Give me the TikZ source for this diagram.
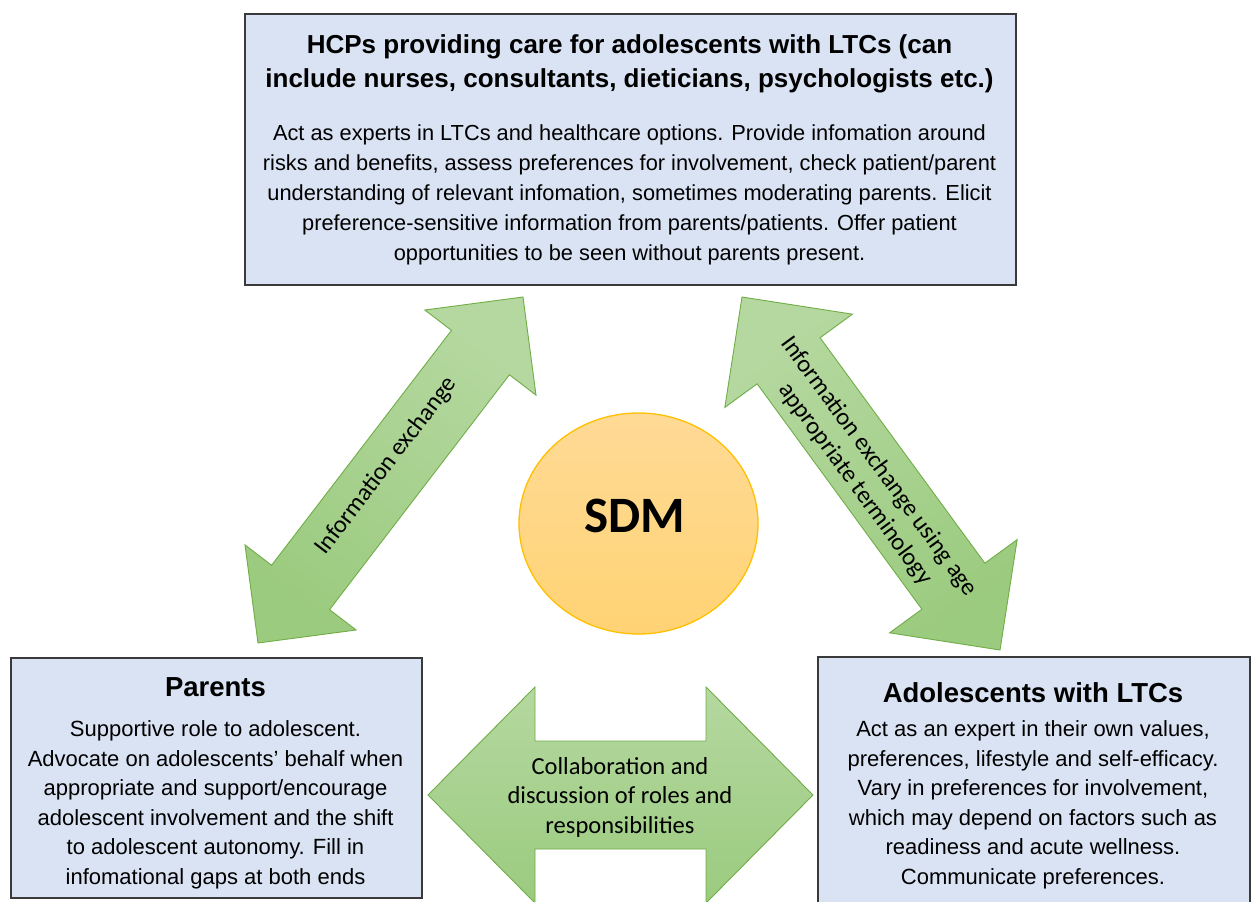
\documentclass[tikz,border=0pt]{standalone}
\usepackage{fontspec}
\setmainfont{Liberation Sans}
\newfontfamily\calib{Carlito}
\usetikzlibrary{calc,shapes.geometric}
\definecolor{boxfill}{HTML}{DAE3F3}
\definecolor{boxline}{HTML}{3A3A3A}
\definecolor{garrowA}{HTML}{B5D8A0}
\definecolor{garrowB}{HTML}{9BCB7F}
\definecolor{garrowline}{HTML}{70AD47}
\definecolor{sdmtop}{HTML}{FFDA96}
\definecolor{sdmbot}{HTML}{FFD374}
\definecolor{sdmline}{HTML}{FFC000}
\tikzset{
  rolebox/.style={draw=boxline, line width=1.8pt, fill=boxfill, rectangle, inner sep=0pt, anchor=north west},
  titletext/.style={font=\bfseries\fontsize{26}{34}\selectfont, align=center, inner sep=0pt},
  rtitletext/.style={font=\bfseries\fontsize{27.5}{30}\selectfont, align=center, inner sep=0pt},
  bodytext/.style={font=\fontsize{21.8}{30}\selectfont, align=center, inner sep=0pt},
  rbodytext/.style={font=\fontsize{22}{29.5}\selectfont, align=center, inner sep=0pt},
  arrowtext/.style={font=\calib\fontsize{24.5}{29.5}\selectfont, align=center, inner sep=0pt},
  greenarrow/.style={draw=garrowline, line width=0.9pt, top color=garrowA, bottom color=garrowB, line join=miter},
  sdmshape/.style={ellipse, draw=sdmline, line width=1.3pt, top color=sdmtop, bottom color=sdmbot, minimum width=239pt, minimum height=221pt, inner sep=0pt},
  sdmtext/.style={font=\calib\bfseries\fontsize{51}{53}\selectfont, inner sep=0pt},
}
% #1 tip A, #2 tip B, #3 shaft half width, #4 head half width, #5 head length, #6 style
\newcommand\dblarrow[6]{%
  \coordinate (ha) at ($(#1)!#5!(#2)$);
  \coordinate (hb) at ($(#2)!#5!(#1)$);
  \path[#6] (#1) -- ($(ha)!#4!90:(#2)$) -- ($(ha)!#3!90:(#2)$)
    -- ($(hb)!#3!-90:(#1)$) -- ($(hb)!#4!-90:(#1)$) -- (#2)
    -- ($(hb)!#4!90:(#1)$) -- ($(hb)!#3!90:(#1)$)
    -- ($(ha)!#3!-90:(#2)$) -- ($(ha)!#4!-90:(#2)$) -- cycle;
}
\begin{document}
\begin{tikzpicture}[x=1pt,y=-1pt]
\useasboundingbox (0,0) rectangle (1251,902);
\fill[white] (0,0) rectangle (1251,902);
\clip (0,0) rectangle (1251,902);

% boxes
\node[rolebox, minimum width=771pt, minimum height=271pt] (hcp) at (244,13) {};
\node[rolebox, minimum width=411pt, minimum height=240pt] (par) at (10,657) {};
\node[rolebox, minimum width=432pt, minimum height=262pt] (ado) at (817,656) {};

\node[titletext] (hcptitle) at (629.5,64) {HCPs providing care for adolescents with LTCs (can\\include nurses, consultants, dieticians, psychologists etc.)};
\node[bodytext] (hcpbody) at (629.5,195) {Act as experts in LTCs and healthcare options. Provide infomation around\\risks and benefits, assess preferences for involvement, check patient/parent\\understanding of relevant infomation, sometimes moderating parents. Elicit\\preference-sensitive information from parents/patients. Offer patient\\opportunities to be seen without parents present.};

\node[rtitletext] (partitle) at (215.5,687) {Parents};
\node[rbodytext] (parbody) at (215.5,805) {Supportive role to adolescent.\\Advocate on adolescents’ behalf when\\appropriate and support/encourage\\adolescent involvement and the shift\\to adolescent autonomy. Fill in\\infomational gaps at both ends};

\node[rtitletext] (adotitle) at (1033,693) {Adolescents with LTCs};
\node[rbodytext] (adobody) at (1033,805) {Act as an expert in their own values,\\preferences, lifestyle and self-efficacy.\\Vary in preferences for involvement,\\which may depend on factors such as\\readiness and acute wellness.\\Communicate preferences.};

% arrow ends
\coordinate (lA) at (258,643);
\coordinate (lB) at (523,297);
\coordinate (rA) at (742,297);
\coordinate (rB) at (1000,650);
\coordinate (hA) at (428,795);
\coordinate (hB) at (813,795);

\dblarrow{lA}{lB}{36.5pt}{70pt}{70pt}{greenarrow, shading angle=-37}
\dblarrow{rA}{rB}{39pt}{79pt}{79pt}{greenarrow, shading angle=37}
\dblarrow{hA}{hB}{54pt}{108pt}{107pt}{greenarrow}

\node[arrowtext, rotate=52.6] (ltext) at ($(lA)!0.5!(lB)+(-4,-4)$) {Information exchange};
\node[arrowtext, rotate=-53.8] (rtext) at ($(rA)!0.5!(rB)+(-4,2)$) {Information exchange using age\\appropriate terminology};
\node[arrowtext] (htext) at (620,797) {Collaboration and\\discussion of roles and\\responsibilities};

% SDM
\node[sdmshape] (sdm) at (638.5,523.5) {};
\node[sdmtext] (sdmlabel) at (635,516) {SDM};
\end{tikzpicture}
\end{document}
